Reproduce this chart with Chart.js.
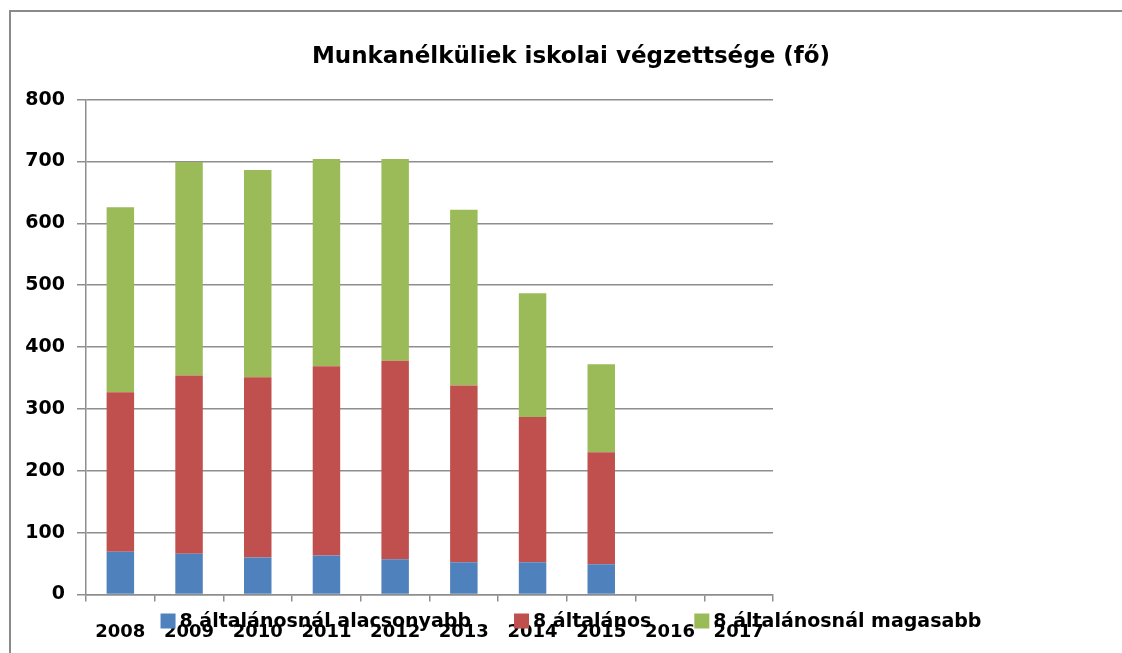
<!DOCTYPE html>
<html><head><meta charset="utf-8">
<script src="https://cdn.jsdelivr.net/npm/chart.js@4/dist/chart.umd.min.js"></script>
<style>html,body{margin:0;padding:0;background:#fff;overflow:hidden}canvas{display:block}</style>
</head><body>
<canvas id="c" width="1122" height="653"></canvas>
<script>
const categories = ['2008', '2009', '2010', '2011', '2012', '2013', '2014', '2015', '2016', '2017'];
const belowEight = [69, 66, 60, 63, 57, 52, 52, 49, null, null];
const eightGrade = [258, 288, 291, 306, 321, 286, 235, 181, null, null];
const aboveEight = [299, 345, 335, 335, 326, 284, 200, 142, null, null];
const seriesNames = ['8 általánosnál alacsonyabb', '8 általános', '8 általánosnál magasabb'];
const seriesColors = ['#4F81BD', '#C0504D', '#9BBB59'];
const yTicks = [0, 100, 200, 300, 400, 500, 600, 700, 800];
const titleText = 'Munkanélküliek iskolai végzettsége (fő)';

const FONT = '"DejaVu Sans", "Liberation Sans", sans-serif';
const GRID = '#8e8e8e';

const framePlugin = {
  id: 'frame',
  beforeDraw(chart) {
    const ctx = chart.ctx;
    ctx.save();
    ctx.fillStyle = '#fff';
    ctx.fillRect(0, 0, chart.width, chart.height);
    ctx.strokeStyle = '#8a8a8a';
    ctx.lineWidth = 2;
    ctx.beginPath();
    ctx.moveTo(10, chart.height + 2);
    ctx.lineTo(10, 11);
    ctx.lineTo(chart.width + 2, 11);
    ctx.stroke();
    ctx.restore();
  }
};

const legendPlugin = {
  id: 'xlLegend',
  afterDraw(chart) {
    const ctx = chart.ctx;
    ctx.save();
    ctx.font = 'bold 19px ' + FONT;
    ctx.textBaseline = 'middle';
    ctx.textAlign = 'left';
    const box = 15, gapText = 4, gapItem = 43;
    const items = chart.data.datasets.map(d => ({ text: d.label, color: d.backgroundColor }));
    const widths = items.map(it => box + gapText + ctx.measureText(it.text).width);
    const total = widths.reduce((a, b) => a + b, 0) + gapItem * (items.length - 1);
    const center = (chart.width + 20) / 2;
    let x = center - total / 2;
    const y = 621;
    items.forEach((it, i) => {
      ctx.fillStyle = it.color;
      ctx.fillRect(x, y - box / 2, box, box);
      ctx.fillStyle = '#000';
      ctx.fillText(it.text, x + box + gapText, y + 1);
      x += widths[i] + gapItem;
    });
    ctx.fillStyle = '#fff';
    ctx.fillRect(chart.width - 4, 14, 4, chart.height - 14);
    ctx.restore();
  }
};

new Chart(document.getElementById('c'), {
  type: 'bar',
  data: {
    labels: categories,
    datasets: [
      { label: seriesNames[0], data: belowEight, backgroundColor: seriesColors[0] },
      { label: seriesNames[1], data: eightGrade, backgroundColor: seriesColors[1] },
      { label: seriesNames[2], data: aboveEight, backgroundColor: seriesColors[2] }
    ]
  },
  options: {
    responsive: false,
    animation: false,
    devicePixelRatio: 1,
    layout: { padding: { left: 20, right: 0, top: 0, bottom: 0 } },
    datasets: { bar: { barPercentage: 0.4, categoryPercentage: 1.0 } },
    plugins: {
      legend: { display: false },
      tooltip: { enabled: false },
      title: {
        display: true,
        text: titleText,
        color: '#000',
        font: { family: FONT, size: 23, weight: 'bold' },
        padding: { top: 43, bottom: 29 }
      }
    },
    scales: {
      x: {
        stacked: true,
        grid: { display: true, drawOnChartArea: false, drawTicks: true, tickLength: 7, color: GRID, lineWidth: 1.5 },
        border: { display: true, color: GRID, width: 1.5 },
        ticks: { color: '#000', font: { family: FONT, size: 18, weight: 'bold' }, padding: 20, autoSkip: false, maxRotation: 0, minRotation: 0 },
        afterFit(scale) { scale.height = 58.5; }
      },
      y: {
        stacked: true,
        min: yTicks[0],
        max: yTicks[yTicks.length - 1],
        afterBuildTicks(scale) { scale.ticks = yTicks.map(v => ({ value: v })); },
        grid: { color: GRID, lineWidth: 1.5, tickLength: 9 },
        border: { display: true, color: GRID, width: 1.5 },
        ticks: { color: '#000', font: { family: FONT, size: 19, weight: 'bold' }, padding: 12 },
        afterFit(scale) { scale.width = 66; }
      },
      spacer: {
        position: 'right',
        display: true,
        min: 0, max: 1,
        grid: { display: false, drawTicks: false },
        border: { display: false },
        ticks: { display: false },
        afterFit(scale) { scale.width = 349; }
      }
    }
  },
  plugins: [framePlugin, legendPlugin]
});
</script>
</body></html>
